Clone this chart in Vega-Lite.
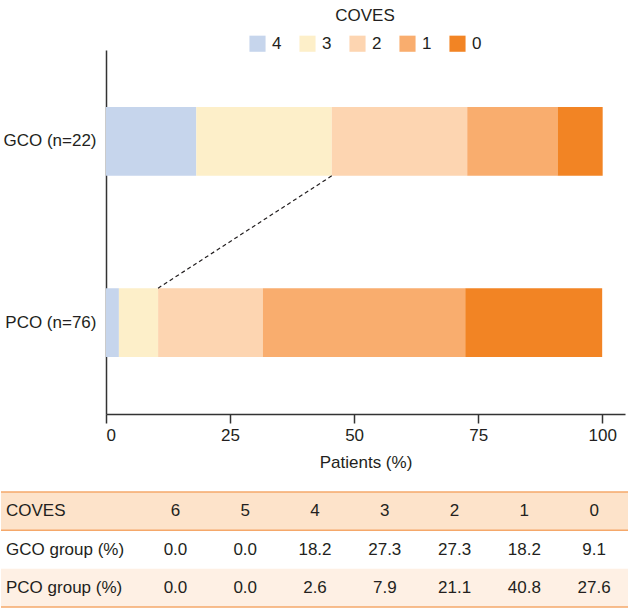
{
  "$schema": "https://vega.github.io/schema/vega-lite/v6.json",
  "padding": {"top": 8, "left": 0, "right": 0, "bottom": 0},
  "config": {
    "view": {"stroke": null},
    "font": "Liberation Sans",
    "text": {"color": "#231f20"}
  },
  "datasets": {
    "bars": [
      {"group": "GCO (n=22)", "coves": "4", "pct": 18.2},
      {"group": "GCO (n=22)", "coves": "3", "pct": 27.3},
      {"group": "GCO (n=22)", "coves": "2", "pct": 27.3},
      {"group": "GCO (n=22)", "coves": "1", "pct": 18.2},
      {"group": "GCO (n=22)", "coves": "0", "pct": 9.1},
      {"group": "PCO (n=76)", "coves": "4", "pct": 2.6},
      {"group": "PCO (n=76)", "coves": "3", "pct": 7.9},
      {"group": "PCO (n=76)", "coves": "2", "pct": 21.1},
      {"group": "PCO (n=76)", "coves": "1", "pct": 40.8},
      {"group": "PCO (n=76)", "coves": "0", "pct": 27.6}
    ],
    "link": [
      {"from": "GCO (n=22)", "to": "PCO (n=76)", "x_from": 45.5, "x_to": 10.5}
    ],
    "rows": [
      {"row": "COVES"},
      {"row": "GCO group (%)"},
      {"row": "PCO group (%)"}
    ],
    "cells": [
      {"row": "COVES", "col": "6", "text": "6"},
      {"row": "COVES", "col": "5", "text": "5"},
      {"row": "COVES", "col": "4", "text": "4"},
      {"row": "COVES", "col": "3", "text": "3"},
      {"row": "COVES", "col": "2", "text": "2"},
      {"row": "COVES", "col": "1", "text": "1"},
      {"row": "COVES", "col": "0", "text": "0"},
      {"row": "GCO group (%)", "col": "6", "text": "0.0"},
      {"row": "GCO group (%)", "col": "5", "text": "0.0"},
      {"row": "GCO group (%)", "col": "4", "text": "18.2"},
      {"row": "GCO group (%)", "col": "3", "text": "27.3"},
      {"row": "GCO group (%)", "col": "2", "text": "27.3"},
      {"row": "GCO group (%)", "col": "1", "text": "18.2"},
      {"row": "GCO group (%)", "col": "0", "text": "9.1"},
      {"row": "PCO group (%)", "col": "6", "text": "0.0"},
      {"row": "PCO group (%)", "col": "5", "text": "0.0"},
      {"row": "PCO group (%)", "col": "4", "text": "2.6"},
      {"row": "PCO group (%)", "col": "3", "text": "7.9"},
      {"row": "PCO group (%)", "col": "2", "text": "21.1"},
      {"row": "PCO group (%)", "col": "1", "text": "40.8"},
      {"row": "PCO group (%)", "col": "0", "text": "27.6"}
    ]
  },
  "width": 519,
  "height": 364,
  "resolve": {"scale": {"x": "independent", "y": "independent"}},
  "layer": [
    {
      "layer": [
        {
          "data": {"name": "bars"},
          "mark": {"type": "bar"},
          "encoding": {
            "y": {
              "field": "group", "type": "nominal",
              "scale": {"paddingInner": 0.62, "paddingOuter": 0.315},
              "axis": {
                "title": null, "ticks": false, "labelPadding": 10,
                "labelFontSize": 17, "labelColor": "#231f20",
                "domainColor": "#333333", "domainWidth": 1.5
              }
            },
            "x": {
              "field": "pct", "type": "quantitative", "stack": "zero",
              "scale": {"domain": [0, 104.6], "nice": false},
              "axis": {
                "title": "Patients (%)", "values": [0, 25, 50, 75, 100],
                "grid": false, "tickSize": 9, "tickWidth": 1.5, "tickColor": "#333333",
                "domainColor": "#333333", "domainWidth": 1.5,
                "labelFontSize": 17, "labelColor": "#231f20", "labelPadding": 4,
                "titleFontSize": 17, "titleFontWeight": "normal", "titleColor": "#231f20",
                "titlePadding": 11
              }
            },
            "color": {
              "field": "coves", "type": "nominal",
              "scale": {
                "domain": ["4", "3", "2", "1", "0"],
                "range": ["#c6d5ec", "#fdefc9", "#fdd5b1", "#f9ad6e", "#f28424"]
              },
              "legend": {
                "title": "COVES", "orient": "none", "direction": "horizontal",
                "legendX": 143, "legendY": -42,
                "titleAnchor": "middle", "titleOrient": "top",
                "titleFontSize": 17, "titleFontWeight": "normal", "titleColor": "#231f20",
                "titlePadding": 10,
                "labelFontSize": 17, "labelColor": "#231f20", "labelOffset": 6,
                "symbolType": "square", "symbolSize": 260, "symbolStrokeWidth": 0,
                "columnPadding": 17, "padding": 0
              }
            },
            "order": {"field": "coves", "sort": "descending"}
          }
        },
        {
          "data": {"name": "link"},
          "mark": {"type": "rule", "strokeDash": [4, 3], "color": "#231f20", "strokeWidth": 1.2},
          "encoding": {
            "y": {"field": "from", "type": "nominal", "bandPosition": 1},
            "y2": {"field": "to", "bandPosition": 0},
            "x": {"field": "x_from", "type": "quantitative"},
            "x2": {"field": "x_to"}
          }
        }
      ]
    },
    {
      "resolve": {"scale": {"x": "independent"}},
      "layer": [
        {
          "data": {"name": "rows"},
          "mark": {"type": "rect"},
          "encoding": {
            "y": {
              "field": "row", "type": "nominal",
              "scale": {"type": "band", "paddingInner": 0, "paddingOuter": 0, "domain": ["COVES", "GCO group (%)", "PCO group (%)"], "range": [442, 557]},
              "axis": null
            },
            "x": {"datum": 0, "type": "quantitative", "scale": {"domain": [0, 1], "range": [-105, 523]}, "axis": null},
            "x2": {"datum": 1},
            "fill": {
              "field": "row", "type": "nominal",
              "scale": {"domain": ["COVES", "GCO group (%)", "PCO group (%)"], "range": ["#fde3ca", "#ffffff", "#fef0e4"]},
              "legend": null
            }
          }
        },
        {
          "data": {"name": "rows"},
          "transform": [{"filter": "datum.row === 'COVES'"}],
          "mark": {"type": "rule", "color": "#f5a86a", "strokeWidth": 1.5},
          "encoding": {
            "y": {"field": "row", "type": "nominal", "bandPosition": 0, "axis": null},
            "x": {"datum": 0, "type": "quantitative", "scale": {"domain": [0, 1], "range": [-105, 523]}, "axis": null},
            "x2": {"datum": 1}
          }
        },
        {
          "data": {"name": "rows"},
          "transform": [{"filter": "datum.row !== 'GCO group (%)'"}],
          "mark": {"type": "rule", "color": "#f5a86a", "strokeWidth": 1.5},
          "encoding": {
            "y": {"field": "row", "type": "nominal", "bandPosition": 1, "axis": null},
            "x": {"datum": 0, "type": "quantitative", "scale": {"domain": [0, 1], "range": [-105, 523]}, "axis": null},
            "x2": {"datum": 1}
          }
        },
        {
          "data": {"name": "rows"},
          "mark": {"type": "text", "align": "left", "baseline": "middle", "fontSize": 17, "dx": 5},
          "encoding": {
            "y": {"field": "row", "type": "nominal", "axis": null},
            "x": {"datum": 0, "type": "quantitative", "scale": {"domain": [0, 1], "range": [-105, 523]}, "axis": null},
            "text": {"field": "row"}
          }
        },
        {
          "data": {"name": "cells"},
          "mark": {"type": "text", "align": "center", "baseline": "middle", "fontSize": 17},
          "encoding": {
            "y": {"field": "row", "type": "nominal", "axis": null},
            "x": {
              "field": "col", "type": "nominal",
              "scale": {"type": "band", "domain": ["6", "5", "4", "3", "2", "1", "0"], "range": [-105, 523], "paddingInner": 0, "paddingOuter": 1, "align": 1},
              "axis": null
            },
            "text": {"field": "text"}
          }
        }
      ]
    }
  ]
}
